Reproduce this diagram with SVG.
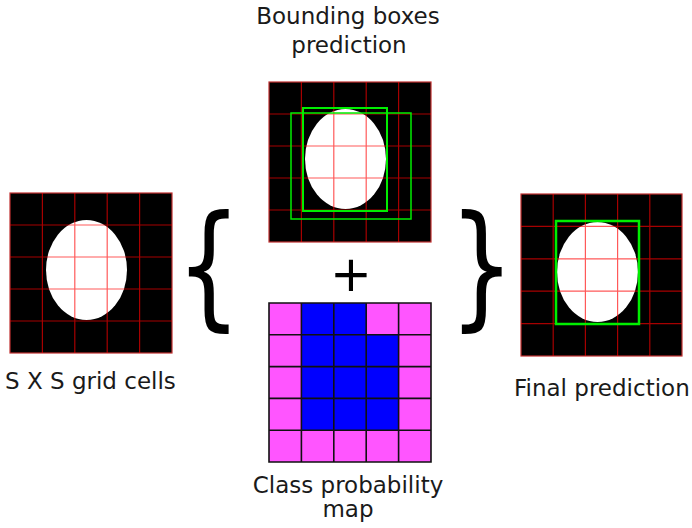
<svg xmlns="http://www.w3.org/2000/svg" width="692" height="528" viewBox="0 0 692 528">
<style>
.lbl{font-family:"DejaVu Sans","Liberation Sans",sans-serif;font-size:23px;fill:#1a1a1a}
.bg{fill:#000;stroke:#c03030;stroke-width:1.2}
.obj{fill:#fff}
.grid{fill:none;stroke:#ff0000;stroke-width:1.2;stroke-opacity:0.65}
.box{fill:none;stroke:#00ee00}
.pink{fill:#ff55ff}
.blue{fill:#0000ff}
.cgrid{fill:none;stroke:#111;stroke-width:1.6}
.op{font-family:"DejaVu Sans","Liberation Sans",sans-serif;fill:#000}
</style>
<rect width="692" height="528" fill="#fff"/>

<g id="grid-cells">
  <rect class="bg" x="10" y="193" width="162" height="160"/>
  <ellipse class="obj" cx="86.5" cy="270" rx="40.5" ry="50"/>
  <path class="grid" d="M42.4 193V353M74.8 193V353M107.2 193V353M139.6 193V353M10 225H172M10 257H172M10 289H172M10 321H172"/>
  <text class="lbl" x="5" y="389">S X S grid cells</text>
</g>

<g id="bounding-boxes">
  <text class="lbl" x="348" y="24" text-anchor="middle">Bounding boxes</text>
  <text class="lbl" x="349" y="53" text-anchor="middle">prediction</text>
  <rect class="bg" x="269" y="82" width="162" height="160"/>
  <ellipse class="obj" cx="345.5" cy="159" rx="40.5" ry="50"/>
  <path class="grid" d="M301.4 82V242M333.8 82V242M366.2 82V242M398.6 82V242M269 114H431M269 146H431M269 178H431M269 210H431"/>
  <rect class="box" x="303" y="108" width="84" height="103" stroke-width="2"/>
  <rect class="box" x="291" y="113" width="120" height="106" stroke-width="1.5"/>
</g>

<g id="class-probability">
  <rect class="pink" x="269" y="303" width="162" height="159"/>
  <path class="blue" d="M301.4 303H366.2V334.8H398.6V430.2H301.4Z"/>
  <path class="cgrid" d="M269 303H431V462H269ZM301.4 303V462M333.8 303V462M366.2 303V462M398.6 303V462M269 334.8H431M269 366.6H431M269 398.4H431M269 430.2H431"/>
  <text class="lbl" x="348" y="493" text-anchor="middle">Class probability</text>
  <text class="lbl" x="348" y="517" text-anchor="middle">map</text>
</g>

<g id="final-prediction">
  <rect class="bg" x="521" y="194" width="161" height="162"/>
  <ellipse class="obj" cx="597.5" cy="272" rx="40.5" ry="50"/>
  <path class="grid" d="M553.2 194V356M585.4 194V356M617.6 194V356M649.8 194V356M521 226.4H682M521 258.8H682M521 291.2H682M521 323.6H682"/>
  <rect class="box" x="556" y="221" width="83" height="103" stroke-width="2.5"/>
  <text class="lbl" x="514" y="396">Final prediction</text>
</g>

<g id="connectors">
  <text class="op" font-size="103" transform="translate(176 311.5) scale(1 1.32)">{</text>
  <text class="op" font-size="103" transform="translate(449 311.5) scale(1 1.32)">}</text>
  <text class="op" font-size="50" x="351" y="291" text-anchor="middle">+</text>
</g>
</svg>
